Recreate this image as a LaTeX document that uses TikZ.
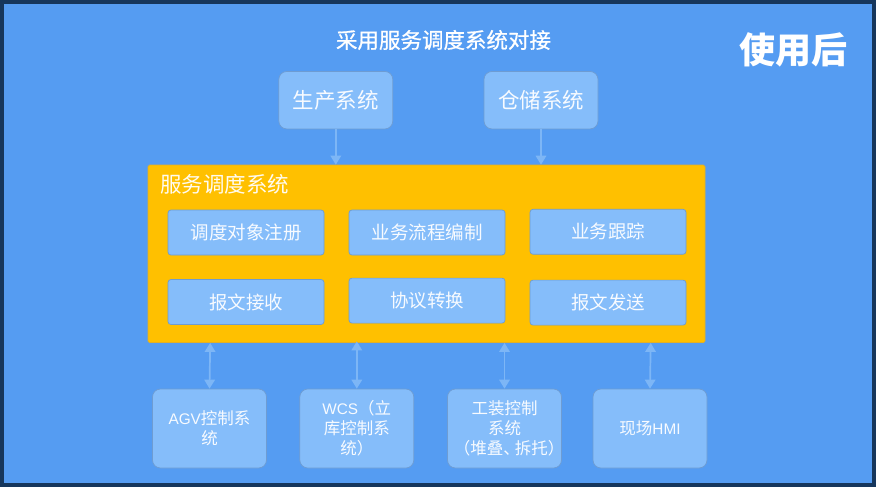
\documentclass[tikz,border=0pt]{standalone}
\usepackage{fontspec}
\setmainfont{Noto Sans CJK SC}
\newfontfamily\titlefont[FakeBold=0.8]{Noto Sans CJK SC}
\newfontfamily\latinfont[Scale=0.93]{Liberation Sans}
\usepackage{tikz}
\usetikzlibrary{arrows.meta, positioning}
\definecolor{panelblue}{RGB}{85,156,242}
\definecolor{panelline}{RGB}{22,54,92}
\definecolor{boxblue}{RGB}{133,189,250}
\definecolor{boxline}{RGB}{110,156,210}
\definecolor{linkblue}{RGB}{125,182,246}
\definecolor{coreyellow}{RGB}{255,192,0}
\definecolor{coreline}{RGB}{225,175,40}

\begin{document}
\begin{tikzpicture}[x=1pt,y=-1pt,
    sysbox/.style={draw=boxline, fill=boxblue, text=white!94!boxblue, rounded corners=8pt, line width=0.7pt,
        minimum width=114pt, minimum height=57.5pt, inner sep=0pt, font=\fontsize{21.5}{26}\selectfont},
    devbox/.style={sysbox, minimum height=79pt, align=center, font=\fontsize{16.5}{20}\selectfont},
    funcbox/.style={draw=boxline, fill=boxblue, text=white!94!boxblue, rounded corners=3pt, line width=0.7pt,
        minimum width=156pt, minimum height=45pt, inner sep=0pt, font=\fontsize{18.5}{22}\selectfont},
    link/.style={draw=linkblue, line width=1.7pt, -{Triangle[length=9pt,width=10.5pt]}},
    biglink/.style={link, {Triangle[length=9pt,width=10.5pt]}-{Triangle[length=9pt,width=10.5pt]}}]
    \useasboundingbox (0,0) rectangle (876,487);
    % background panel
    \draw[panelline, fill=panelblue, line width=3.6pt] (1.8,1.8) rectangle (874.2,485.2);
    \node[text=white, font=\fontsize{21.5}{26}\selectfont\titlefont] (title) at (443.5,40) {采用服务调度系统对接};
    \node[text=white, font=\fontsize{36}{42}\selectfont\bfseries] (after) at (793,50) {使用后};

    % upper systems
    \node[sysbox] (prod) at (335.8,100.2) {生产系统};
    \node[sysbox] (store) at (541,100.2) {仓储系统};

    % scheduling system
    \node[draw=coreline, fill=coreyellow, rounded corners=1.5pt, line width=0.7pt,
        minimum width=557pt, minimum height=177.5pt, inner sep=0pt] (core) at (426.5,253.8) {};
    \node[text=white!94!coreyellow, anchor=west, inner sep=0pt, font=\fontsize{21.5}{26}\selectfont] (coretitle) at (160,184) {服务调度系统};

    % functions inside
    \node[funcbox] (register) at (246,232.5) {调度对象注册};
    \node[funcbox] (flow) at (427,232.5) {业务流程编制};
    \node[funcbox] (track) at (608,231.8) {业务跟踪};
    \node[funcbox] (recv) at (246,302) {报文接收};
    \node[funcbox] (convert) at (427,300.6) {协议转换};
    \node[funcbox] (send) at (608,302.6) {报文发送};

    % lower systems
    \node[devbox] (agv) at (209.5,428.5) {{\latinfont AGV}控制系\\统};
    \node[devbox] (wcs) at (356.8,428.5) {{\latinfont WCS}（立\\库控制系\\统）};
    \node[devbox] (tool) at (504.5,428.5) {工装控制\\系统\\\makebox[0pt]{\hspace*{9pt}（堆叠、\hspace{-5pt}拆托）}};
    \node[devbox] (hmi) at (650,428.5) {现场{\latinfont HMI}};

    % links
    \draw[link] (prod) -- (prod |- core.north);
    \draw[link] (store) -- (store |- core.north);
    \draw[biglink] (agv.north) -- ([xshift=0.7pt]agv.north |- core.south);
    \draw[biglink] (wcs.north) -- ([yshift=1.5pt]wcs.north |- core.south);
    \draw[biglink] (tool.north) -- (tool.north |- core.south);
    \draw[biglink] (hmi.north) -- ([xshift=0.7pt]hmi.north |- core.south);
\end{tikzpicture}
\end{document}
